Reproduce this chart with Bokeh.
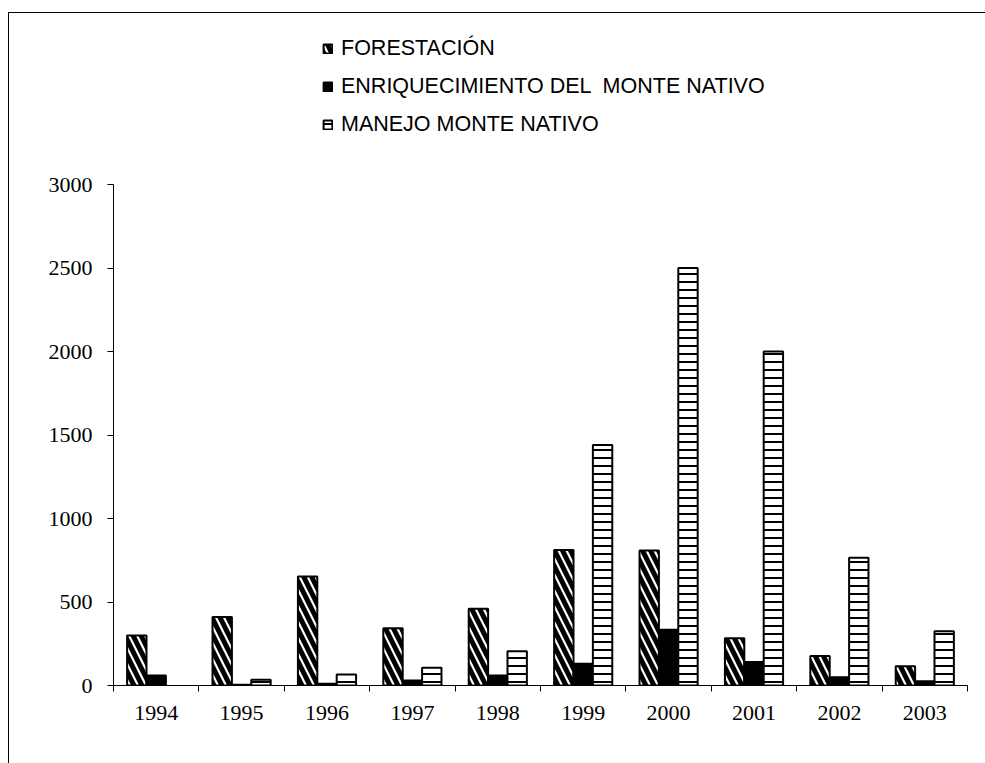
import numpy as np
from bokeh.plotting import figure
from bokeh.models import Legend, LegendItem, LinearAxis, FixedTicker, Range1d, ColumnDataSource
from bokeh.layouts import column
from bokeh.embed import file_html
from bokeh.resources import INLINE

# ---- data ----
years = ["1994", "1995", "1996", "1997", "1998", "1999", "2000", "2001", "2002", "2003"]
forestacion = [300, 410, 653, 343, 459, 812, 808, 283, 176, 116]
enriquecimiento = [60, 5, 10, 30, 60, 130, 334, 140, 50, 26]
manejo = [float("nan"), 34, 66, 106, 205, 1440, 2500, 2000, 765, 325]
series_names = ["FORESTACIÓN", "ENRIQUECIMIENTO DEL  MONTE NATIVO", "MANEJO MONTE NATIVO"]
y_ticks = [0, 500, 1000, 1500, 2000, 2500, 3000]

x = np.arange(1, len(years) + 1)
bar_w = 0.227

styles = [
    dict(fill_color="white", line_color="black", line_width=2, hatch_pattern="\\",
         hatch_color="black", hatch_weight=5, hatch_scale=16),
    dict(fill_color="black", line_color="black", line_width=2),
    dict(fill_color="white", line_color="black", line_width=2, hatch_pattern="-",
         hatch_color="black", hatch_weight=2, hatch_scale=8),
]

W, H = 976, 750
FRAME_H = 672          # frame spans canvas 0..672
AXIS_H = 501           # pixels used by the 0..3000 value axis
y_end = y_ticks[-1] * FRAME_H / AXIS_H   # frame extends above the axis to hold the legend

src = ColumnDataSource(dict(x1=x - bar_w, x2=x, x3=x + bar_w,
                            f=forestacion, e=enriquecimiento, m=manejo))
cols = [("x1", "f"), ("x2", "e"), ("x3", "m")]

p = figure(width=W, height=H, x_range=Range1d(0.5, len(years) + 0.5), y_range=Range1d(0, y_end),
           output_backend="svg", toolbar_location=None, x_axis_type=None,
           min_border_left=104, min_border_right=18, min_border_top=0, min_border_bottom=H - FRAME_H)
p.outline_line_color = None
p.xgrid.visible = False
p.ygrid.visible = False

rs = [p.vbar(x=xc, top=yc, width=bar_w, source=src, **s) for (xc, yc), s in zip(cols, styles)]

ya = p.yaxis[0]
ya.ticker = FixedTicker(ticks=y_ticks)
ya.bounds = (y_ticks[0], y_ticks[-1])
ya.minor_tick_line_color = None
ya.major_tick_out = 6
ya.major_tick_in = 0
ya.axis_line_color = "black"
ya.major_tick_line_color = "black"
ya.major_label_text_font = "Liberation Serif"
ya.major_label_text_font_size = "22px"
ya.major_label_text_color = "black"
ya.major_label_standoff = 15

bounds = [float(b) for b in np.concatenate([x - 0.5, [x[-1] + 0.5]])]
ax1 = LinearAxis(ticker=FixedTicker(ticks=bounds),
                 major_label_overrides={b: "" for b in bounds},
                 major_label_standoff=0, major_tick_out=6, major_tick_in=0,
                 minor_tick_line_color=None, axis_line_color="black", major_tick_line_color="black")
p.add_layout(ax1, "below")
ax2 = LinearAxis(ticker=FixedTicker(ticks=[int(v) for v in x]),
                 major_label_overrides={int(v): yr for v, yr in zip(x, years)},
                 axis_line_color=None, major_tick_line_color=None, minor_tick_line_color=None,
                 major_tick_out=0, major_tick_in=0, major_label_standoff=14,
                 major_label_text_font="Liberation Serif", major_label_text_font_size="22px",
                 major_label_text_color="black")
p.add_layout(ax2, "below")

legend = Legend(items=[LegendItem(label=n, renderers=[r]) for n, r in zip(series_names, rs)],
                location=(209, 542), orientation="vertical", border_line_color=None,
                background_fill_alpha=0, padding=0, margin=0, glyph_width=11, glyph_height=11,
                label_standoff=8, label_height=38, spacing=0,
                label_text_font="Liberation Sans", label_text_font_size="21.5px",
                label_text_color="black")
p.add_layout(legend)

layout = column(p, margin=(12, 0, 0, 8), spacing=0,
                styles={"border-top": "1px solid black", "border-left": "1px solid black"})

open("out.html", "w").write(file_html(layout, INLINE))
